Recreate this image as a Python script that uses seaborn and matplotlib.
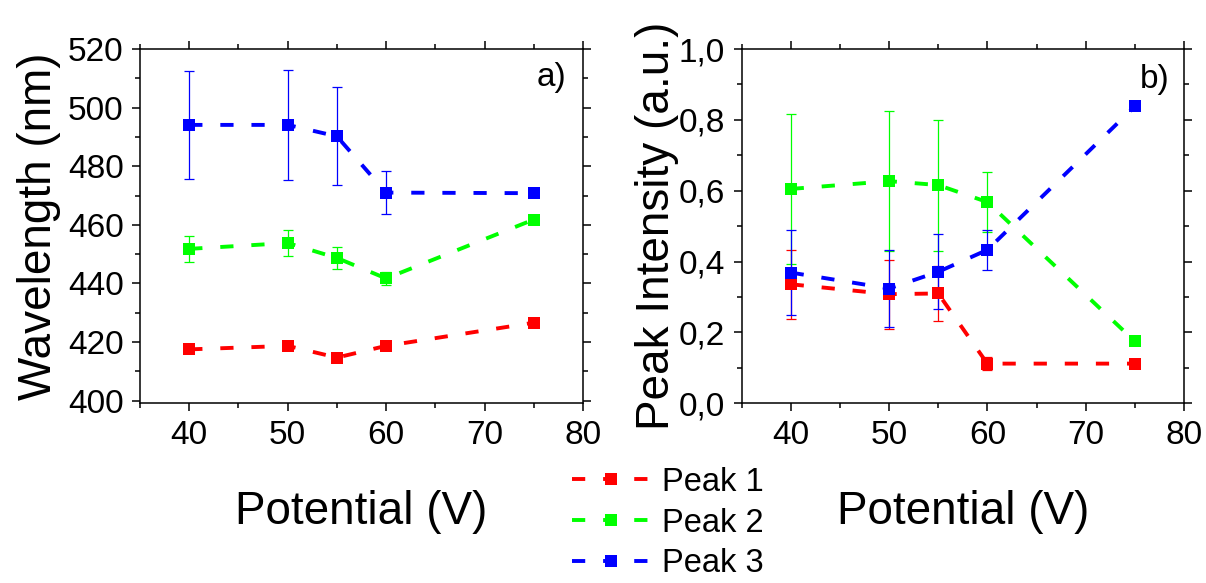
import numpy as np
import pandas as pd
import matplotlib
matplotlib.use("Agg")
import matplotlib.pyplot as plt
from matplotlib.ticker import MultipleLocator, FuncFormatter
import seaborn as sns

# ---- data ----
potential = [40, 50, 55, 60, 75]
peaks = ["Peak 1", "Peak 2", "Peak 3"]

wl_peak1 = [417.5, 418.7, 414.7, 418.7, 426.6]
wl_peak2 = [451.8, 453.8, 448.7, 441.7, 461.8]
wl_peak3 = [494.1, 494.1, 490.2, 471.0, 470.8]
wl_err_peak1 = [np.nan, np.nan, np.nan, np.nan, np.nan]
wl_err_peak2 = [4.5, 4.6, 3.75, 2.15, np.nan]
wl_err_peak3 = [18.3, 18.7, 16.7, 7.3, np.nan]

int_peak1 = [0.336, 0.308, 0.310, 0.112, 0.112]
int_peak2 = [0.605, 0.627, 0.616, 0.568, 0.175]
int_peak3 = [0.369, 0.324, 0.371, 0.433, 0.838]
int_err_peak1 = [0.097, 0.097, 0.077, 0.018, np.nan]
int_err_peak2 = [0.212, 0.198, 0.185, 0.084, np.nan]
int_err_peak3 = [0.119, 0.110, 0.106, 0.056, np.nan]

colors = ["#FF0000", "#00FF00", "#0000FF"]

rows = []
for name, wl, wle, it, ite in zip(
    peaks,
    [wl_peak1, wl_peak2, wl_peak3],
    [wl_err_peak1, wl_err_peak2, wl_err_peak3],
    [int_peak1, int_peak2, int_peak3],
    [int_err_peak1, int_err_peak2, int_err_peak3],
):
    for i, p in enumerate(potential):
        rows.append(dict(Peak=name, Potential=p, Wavelength=wl[i], WlErr=wle[i],
                         Intensity=it[i], IntErr=ite[i]))
df = pd.DataFrame(rows)

# ---- style ----
sns.set_style("ticks")
plt.rcParams["font.family"] = ["Liberation Sans", "DejaVu Sans"]
plt.rcParams.update({"text.color": "black", "axes.labelcolor": "black",
                     "xtick.color": "black", "ytick.color": "black",
                     "axes.edgecolor": "black"})

fig = plt.figure(figsize=(12.06, 5.83), dpi=100)
ax1 = fig.add_axes([140 / 1206, 1 - 403.3 / 583, 443 / 1206, 354.3 / 583])
ax2 = fig.add_axes([741.5 / 1206, 1 - 403.3 / 583, 442.5 / 1206, 354.3 / 583])

dash = (0, (3.4, 4.6))
line_kws = dict(marker="s", markersize=8.3, markeredgewidth=0, linewidth=2.8,
                linestyle=dash)

for ax, ycol, ecol in [(ax1, "Wavelength", "WlErr"), (ax2, "Intensity", "IntErr")]:
    sns.lineplot(data=df, x="Potential", y=ycol, hue="Peak", hue_order=peaks,
                 palette=colors, legend=False, ax=ax, **line_kws)
    for name, c in zip(peaks, colors):
        sub = df[df["Peak"] == name]
        if sub[ecol].notna().any():
            ax.errorbar(sub["Potential"], sub[ycol], yerr=sub[ecol], fmt="none",
                        ecolor=c, elinewidth=0.9, capsize=3.8, capthick=0.9,
                        zorder=1.5)

handles = list(ax1.lines[:3])

ax1.set_xlim(35, 80)
ax1.set_ylim(399.1, 520)
ax1.xaxis.set_major_locator(MultipleLocator(10))
ax1.xaxis.set_minor_locator(MultipleLocator(5))
ax1.yaxis.set_major_locator(MultipleLocator(20))
ax1.yaxis.set_minor_locator(MultipleLocator(10))

ax2.set_xlim(35, 80)
ax2.set_ylim(0, 1.0)
ax2.xaxis.set_major_locator(MultipleLocator(10))
ax2.xaxis.set_minor_locator(MultipleLocator(5))
ax2.yaxis.set_major_locator(MultipleLocator(0.2))
ax2.yaxis.set_minor_locator(MultipleLocator(0.1))
ax2.yaxis.set_major_formatter(FuncFormatter(lambda v, p: f"{v:.1f}".replace(".", ",")))

for ax in (ax1, ax2):
    for s in ax.spines.values():
        s.set_visible(True)
        s.set_linewidth(1.1)
        s.set_color("black")
    ax.tick_params(which="both", direction="out", top=True, right=True,
                   labeltop=False, labelright=False, width=1.1, color="black",
                   labelcolor="black")
    ax.tick_params(which="major", length=5.8, labelsize=24, pad=6)
    ax.tick_params(which="minor", length=3.6)
    ax.set_xlabel("Potential (V)", fontsize=33, labelpad=28)

ax1.set_ylabel("Wavelength (nm)", fontsize=33, labelpad=5)
ax2.set_ylabel("Peak Intensity (a.u.)", fontsize=33, labelpad=0)

ax1.text(0.93, 0.92, "a)", transform=ax1.transAxes, fontsize=24, ha="center", va="center")
ax2.text(0.934, 0.915, "b)", transform=ax2.transAxes, fontsize=24, ha="center", va="center")

fig.legend(handles, peaks, loc="center left", bbox_to_anchor=(572 / 1206, 1 - 523 / 583),
           frameon=False, fontsize=23.5, handlelength=2.4, handletextpad=0.37,
           labelspacing=0.3, borderpad=0, borderaxespad=0)

fig.savefig("out.png", dpi=100)
